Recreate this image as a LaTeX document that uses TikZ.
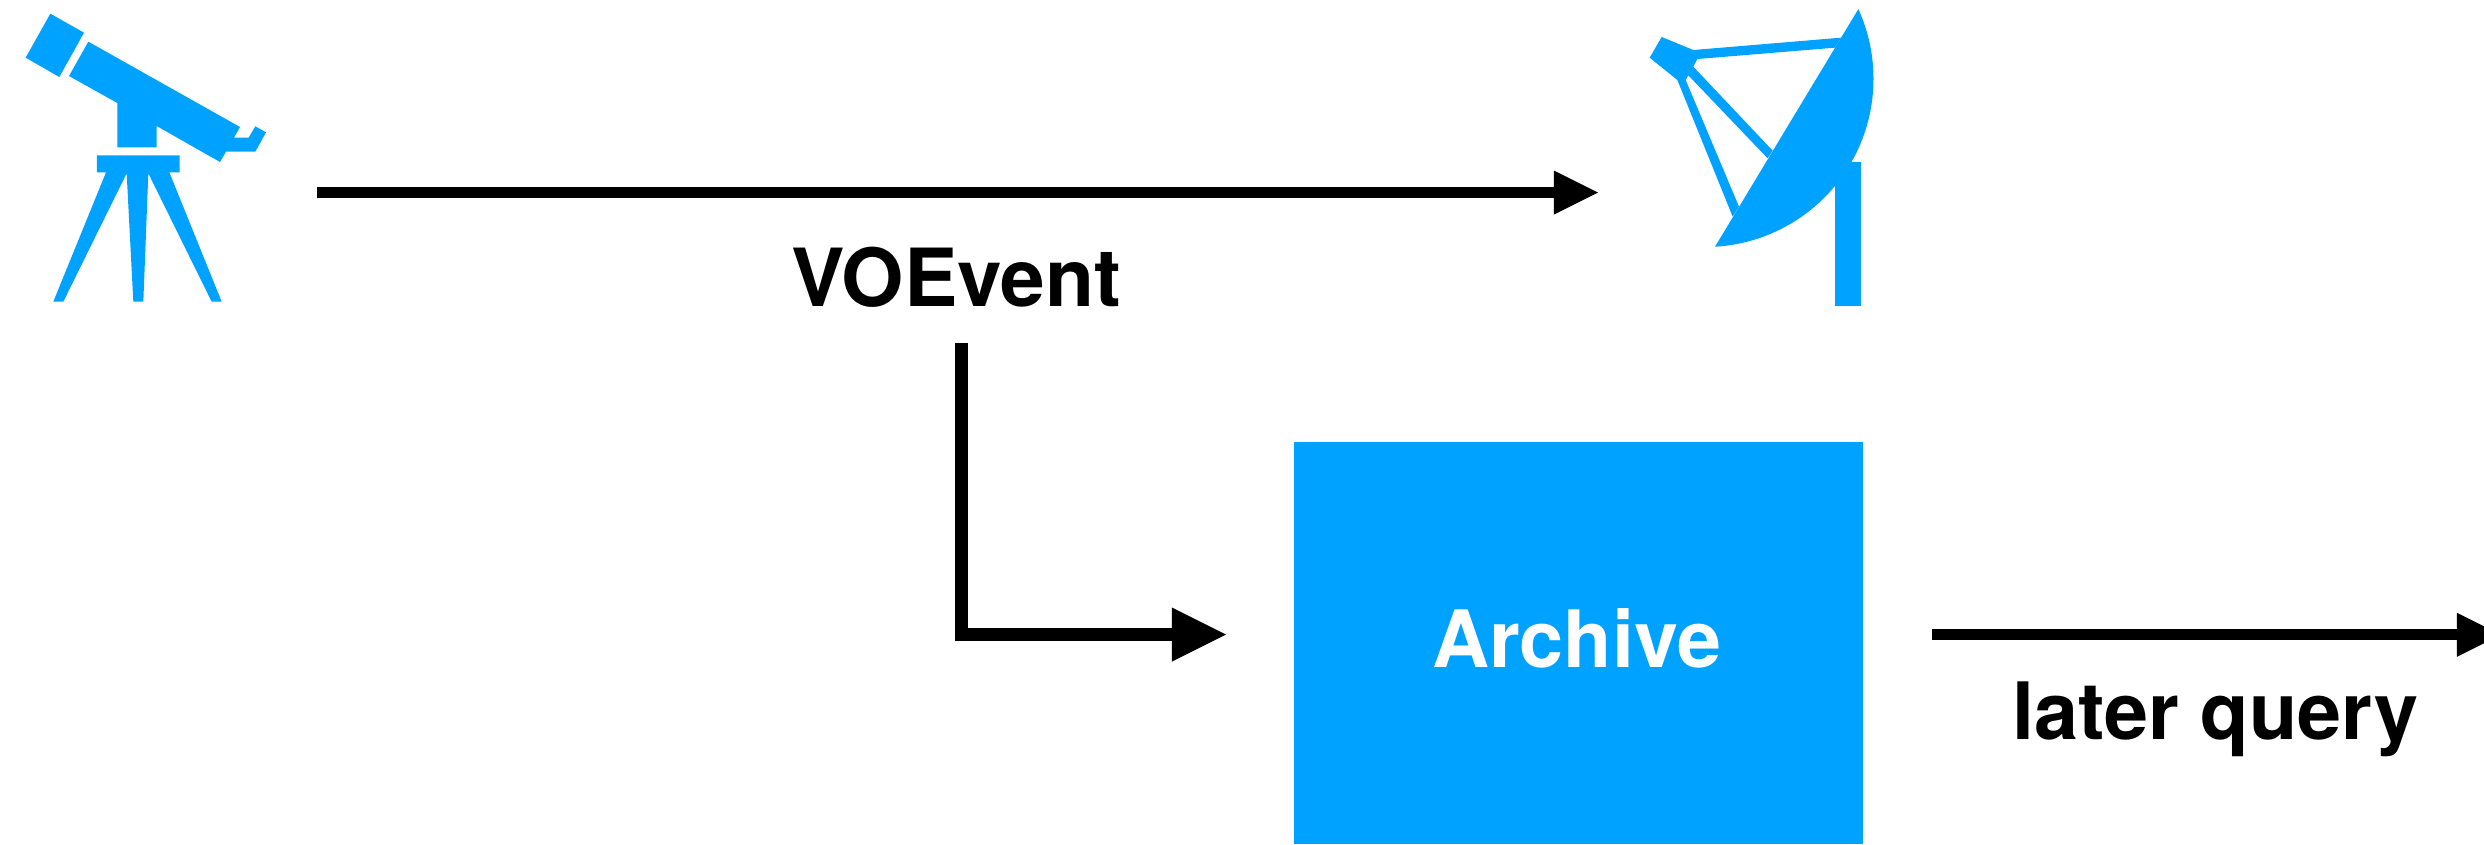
\documentclass[tikz,border=0pt]{standalone}
\usepackage{fontspec}
\setmainfont{TeX Gyre Heros}
\usetikzlibrary{arrows.meta}
\definecolor{skyblue}{HTML}{00A2FF}
\tikzset{
  icon/.style={fill=skyblue,draw=none},
  labeltext/.style={anchor=base west,inner sep=0pt,outer sep=0pt,font=\fontsize{22.5pt}{26pt}\selectfont\bfseries},
  widelabel/.style={labeltext,font=\fontsize{22.8pt}{26pt}\selectfont\bfseries},
  thinarrow/.style={draw=black,line width=0.11cm,-{Triangle[length=0.44cm,width=0.44cm,line width=0pt]}},
  thickarrow/.style={draw=black,line width=0.125cm,-{Triangle[length=0.54cm,width=0.54cm,line width=0pt]}}
}
\begin{document}
\begin{tikzpicture}[x=0.01cm,y=-0.01cm]
\useasboundingbox (0,0) rectangle (2484,844);
% telescope
\begin{scope}[scale=1/3]
\fill[icon] (151,41) -- (252,98) -- (178,231) -- (77,173) -- cycle;
\fill[icon] (265,125) -- (720,381) -- (702,413) -- (746,413) -- (766,379) -- (798,397) -- (766,455) -- (678,455) -- (660,486) -- (470,378) -- (470,442) -- (352,442) -- (352,309) -- (207,228) -- cycle;
\fill[icon] (291,466) -- (539,466) -- (539,517) -- (508,517) -- (665,905) -- (635,905) -- (445,520) -- (430,905) -- (400,905) -- (380,520) -- (190,905) -- (160,905) -- (318,517) -- (291,517) -- cycle;
\end{scope}
% dish
\begin{scope}[shift={(1620,0)},scale=1/3]
\fill[icon] plot[smooth,domain=-24.5:86.7,samples=60] ({256+504.5*cos(\x)},{236.5+504.5*sin(\x)}) -- cycle;
\fill[icon] (645,485) rectangle (724,918);
\fill[icon] (125,111) -- (220,150) -- (663,113) -- (645,143) -- (232,177) -- (220,200) -- (458,452) -- (443,475) -- (205,226) -- (197,240) -- (357,620) -- (338,650) -- (172,240) -- (89,173) -- cycle;
\end{scope}
% archive
\fill[icon] (1294,442) rectangle (1863,844);
\node[labeltext,text=white] (archive) at (1432,667) {Archive};
% labels
\node[widelabel] (voevent) at (791,306) {VOEvent};
\node[labeltext] (later) at (2012,739) {later query};
% connectors
\coordinate (a1) at (317,192.6);
\coordinate (a2) at (1598,192.6);
\draw[thinarrow] (a1) -- (a2);
\coordinate (b1) at (961.7,342.7);
\coordinate (b2) at (1226,634.5);
\draw[thickarrow] (b1) |- (b2);
\coordinate (c1) at (1932,634.8);
\coordinate (c2) at (2501,634.8);
\draw[thinarrow] (c1) -- (c2);
\end{tikzpicture}
\end{document}
